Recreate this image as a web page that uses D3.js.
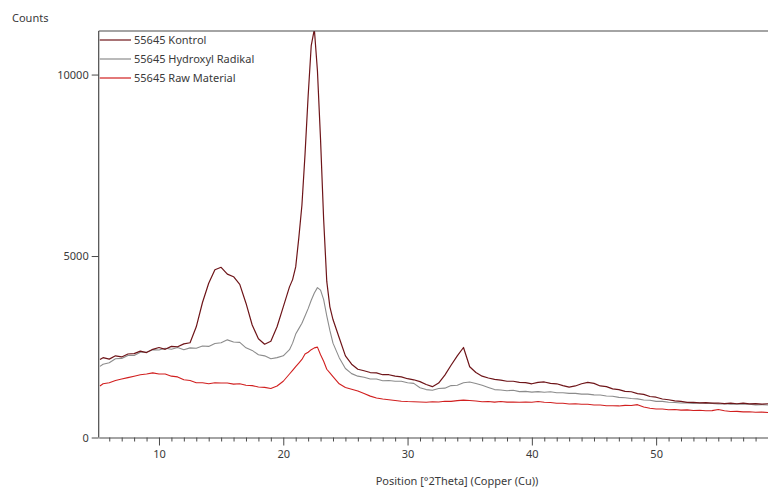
<!DOCTYPE html>
<html>
<head>
<meta charset="utf-8">
<script src="https://cdn.jsdelivr.net/npm/d3@7"></script>
<style>
  body { margin: 0; background: #fff; }
  svg text { font-family: "Noto Sans", "Open Sans", sans-serif; fill: #3a3a3a; }
</style>
</head>
<body>
<svg id="chart" width="768" height="490"></svg>
<script>
// Diffraction angle grid (°2θ)
const twoTheta = [
  5.25, 5.5, 6, 6.5, 7, 7.5, 8, 8.5, 9, 9.5,
  10, 10.5, 11, 11.5, 12, 12.5, 13, 13.5, 14, 14.5,
  15, 15.5, 16, 16.5, 17, 17.5, 18, 18.5, 19, 19.5,
  20, 20.5, 20.75, 21, 21.25, 21.5, 21.75, 22, 22.25, 22.5,
  22.75, 23, 23.25, 23.5, 23.75, 24, 24.5, 25, 25.5, 26,
  26.5, 27, 27.5, 28, 28.5, 29, 29.5, 30, 30.5, 31,
  31.5, 32, 32.5, 33, 33.5, 34, 34.5, 35, 35.5, 36,
  36.5, 37, 37.5, 38, 38.5, 39, 39.5, 40, 40.5, 41,
  41.5, 42, 42.5, 43, 43.5, 44, 44.5, 45, 45.5, 46,
  46.5, 47, 47.5, 48, 48.5, 49, 49.5, 50, 50.5, 51,
  51.5, 52, 52.5, 53, 53.5, 54, 54.5, 55, 55.5, 56,
  56.5, 57, 57.5, 58, 58.5, 59
];

// Intensity (counts) for each sample
const kontrol = [
  2150, 2200, 2160, 2250, 2220, 2300, 2310, 2380, 2340, 2430,
  2480, 2430, 2510, 2500, 2580, 2610, 3050, 3720, 4250, 4620,
  4690, 4500, 4430, 4220, 3700, 3100, 2720, 2570, 2650, 3050,
  3600, 4150, 4350, 4700, 5500, 6400, 7800, 9400, 10800, 11250,
  10100, 8200, 6000, 4300, 3600, 3250, 2750, 2250, 2020, 1880,
  1840, 1790, 1780, 1730, 1730, 1690, 1670, 1620, 1590, 1540,
  1460, 1400, 1500, 1720, 1990, 2250, 2480, 1950, 1790, 1690,
  1640, 1600, 1580, 1550, 1550, 1520, 1510, 1480, 1520, 1530,
  1490, 1480, 1430, 1390, 1420, 1480, 1520, 1490, 1420, 1400,
  1340, 1320, 1270, 1260, 1210, 1190, 1130, 1110, 1060, 1040,
  1010, 995, 970, 970, 955, 960, 945, 950, 935, 945,
  930, 945, 925, 935, 920, 930
];

const hydroxyl = [
  1960, 2020, 2060, 2170, 2180, 2260, 2260, 2350, 2350, 2420,
  2410, 2460, 2430, 2480, 2420, 2470, 2460, 2520, 2510, 2590,
  2610, 2690, 2630, 2620, 2470, 2400, 2280, 2250, 2170, 2200,
  2250, 2420, 2600, 2850, 3000, 3150, 3350, 3550, 3780, 3980,
  4130, 4060, 3800, 3350, 2950, 2600, 2200, 1900, 1760, 1690,
  1660, 1610, 1610, 1565, 1570, 1550, 1550, 1510, 1490, 1370,
  1320, 1300, 1350, 1360, 1430, 1440, 1510, 1530, 1490, 1440,
  1380, 1320, 1310, 1290, 1300, 1265, 1270, 1250, 1265, 1245,
  1260, 1235, 1235, 1215, 1215, 1195, 1195, 1175, 1170, 1145,
  1135, 1105, 1095, 1075, 1065, 1035, 1025, 995, 995, 970,
  965, 950, 955, 940, 950, 935, 940, 925, 930, 915,
  920, 915, 915, 900, 905, 895
];

const rawMaterial = [
  1420, 1480, 1510, 1570, 1610, 1650, 1690, 1730, 1750, 1780,
  1750, 1750, 1690, 1670, 1590, 1570, 1510, 1510, 1480, 1510,
  1500, 1500, 1470, 1480, 1440, 1430, 1390, 1380, 1350, 1420,
  1550, 1750, 1850, 1950, 2050, 2150, 2300, 2350, 2420, 2470,
  2490, 2280, 2100, 1880, 1780, 1680, 1480, 1380, 1330, 1280,
  1210, 1140, 1090, 1060, 1040, 1020, 1000, 990, 985, 980,
  970, 985, 980, 1000, 995, 1015, 1030, 1020, 1005, 985,
  990, 975, 990, 975, 975, 970, 975, 970, 990, 970,
  965, 945, 945, 925, 930, 915, 915, 895, 895, 875,
  875, 870, 885, 880, 905, 840, 805, 785, 785, 765,
  770, 755, 760, 745, 750, 735, 740, 770, 735, 715,
  720, 705, 710, 695, 700, 690
];

const seriesNames = ["55645 Kontrol", "55645 Hydroxyl Radikal", "55645 Raw Material"];
const seriesColors = ["#6e1519", "#8c8c8c", "#d11f1f"];
const xTickValues = [10, 20, 30, 40, 50];
const yTickValues = [0, 5000, 10000];

const svg = d3.select("#chart");
const plotLeft = 98.7, plotRight = 768, plotTop = 31, plotBottom = 437.5;

const x = d3.scaleLinear().domain([5.15, 59.0]).range([plotLeft, plotRight]);
const y = d3.scaleLinear().domain([0, 11200]).range([plotBottom, plotTop]);

svg.append("defs").append("clipPath").attr("id", "plotClip")
  .append("rect")
  .attr("x", plotLeft).attr("y", plotTop)
  .attr("width", plotRight - plotLeft).attr("height", plotBottom - plotTop);

// Patterns, drawn back to front
const series = [
  { name: seriesNames[2], values: rawMaterial, color: seriesColors[2], width: 1.1 },
  { name: seriesNames[1], values: hydroxyl, color: seriesColors[1], width: 1.1 },
  { name: seriesNames[0], values: kontrol, color: seriesColors[0], width: 1.2 }
];

const line = d3.line()
  .x((d, i) => x(twoTheta[i]))
  .y(d => y(d));

svg.append("g").attr("clip-path", "url(#plotClip)")
  .selectAll("path")
  .data(series)
  .join("path")
  .attr("fill", "none")
  .attr("stroke", d => d.color)
  .attr("stroke-width", d => d.width)
  .attr("stroke-linejoin", "round")
  .attr("d", d => line(d.values));

const axisColor = "#4a4a4a";

// Top frame line
svg.append("line")
  .attr("x1", plotLeft).attr("x2", plotRight)
  .attr("y1", plotTop).attr("y2", plotTop)
  .attr("stroke", axisColor).attr("stroke-width", 1.2);

// Y axis
const yAxis = svg.append("g")
  .attr("transform", `translate(${plotLeft},0)`)
  .call(d3.axisLeft(y).tickValues(yTickValues).tickSize(7).tickSizeOuter(0).tickPadding(3).tickFormat(d3.format("d")));
yAxis.select(".domain").attr("stroke", axisColor).attr("stroke-width", 1.2)
  .attr("d", `M0,${plotTop}V${plotBottom}`);
yAxis.selectAll(".tick line").attr("stroke", axisColor);
yAxis.selectAll(".tick text").attr("font-size", 11).style("fill", "#3a3a3a");

// X axis: minor ticks every degree, labelled major ticks every ten
const minorTicks = d3.range(6, 59).filter(v => v % 10 !== 0);
const xMinor = svg.append("g")
  .attr("transform", `translate(0,${plotBottom})`)
  .call(d3.axisBottom(x).tickValues(minorTicks).tickSize(4).tickSizeOuter(0).tickFormat(""));
xMinor.select(".domain").remove();
xMinor.selectAll(".tick line").attr("stroke", axisColor);

const xAxis = svg.append("g")
  .attr("transform", `translate(0,${plotBottom})`)
  .call(d3.axisBottom(x).tickValues(xTickValues).tickSize(8).tickSizeOuter(0).tickPadding(5));
xAxis.select(".domain").attr("stroke", axisColor).attr("stroke-width", 1.2);
xAxis.selectAll(".tick line").attr("stroke", axisColor);
xAxis.selectAll(".tick text").attr("font-size", 11).style("fill", "#3a3a3a");

// Axis titles
svg.append("text")
  .attr("x", 12).attr("y", 22)
  .attr("font-size", 11)
  .text("Counts");

svg.append("text")
  .attr("x", 457).attr("y", 485)
  .attr("text-anchor", "middle")
  .attr("font-size", 11)
  .text("Position [°2Theta] (Copper (Cu))");

// Legend
const legend = svg.append("g").selectAll("g")
  .data(seriesNames)
  .join("g")
  .attr("transform", (d, i) => `translate(0,${40 + i * 19})`);
legend.append("line")
  .attr("x1", plotLeft + 1).attr("x2", 131)
  .attr("stroke", (d, i) => seriesColors[i])
  .attr("stroke-width", 1.2);
legend.append("text")
  .attr("x", 134).attr("y", 0)
  .attr("dy", "0.35em")
  .attr("font-size", 11)
  .text(d => d);
</script>
</body>
</html>
